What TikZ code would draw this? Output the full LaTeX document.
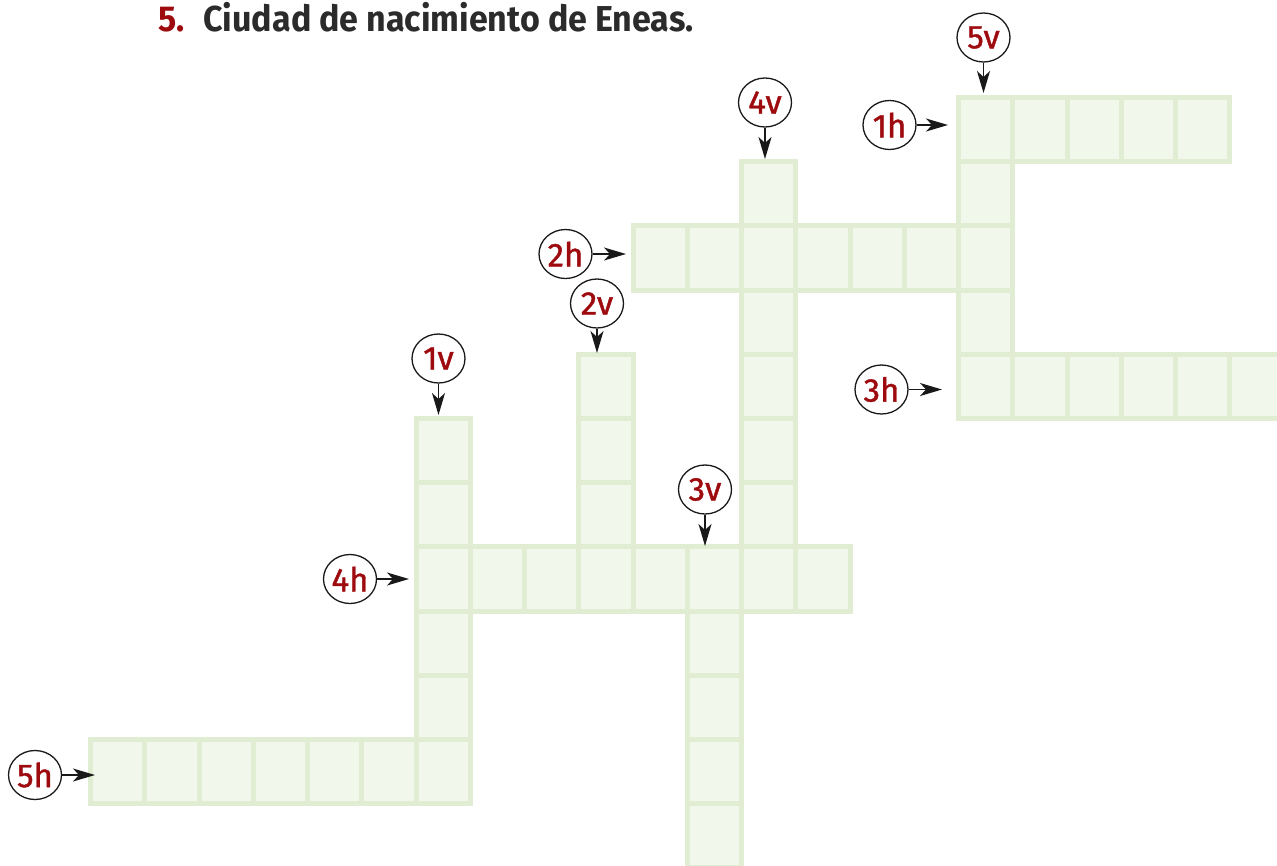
\documentclass[tikz,border=0pt]{standalone}
\usepackage{fontspec}
\setmainfont{Fira Sans}
\newfontfamily\titlefont[FakeStretch=0.945]{Fira Sans}
\newfontfamily\lblfont[FakeBold=1.2]{Fira Sans}
\usetikzlibrary{arrows.meta,shapes.geometric}
\definecolor{cellfill}{HTML}{F2F7EC}
\definecolor{cellline}{HTML}{E1EDD2}
\definecolor{lblred}{HTML}{9E0B0F}
\definecolor{titlegray}{HTML}{2B2B2B}
\begin{document}
\begin{tikzpicture}[x=1pt,y=-1pt,
  cell/.style={rectangle, draw=cellline, fill=cellfill, line width=5pt,
    minimum width=54.25pt, minimum height=64.2pt, inner sep=0pt, outer sep=0pt},
  lbl/.style={ellipse, draw=black!90, line width=1.3pt, minimum width=53pt,
    minimum height=49pt, inner sep=0pt, text=lblred,
    font=\lblfont\fontsize{33}{33}\selectfont},
  arr/.style={-{Stealth[length=22pt,width=13pt,inset=6pt]}, line width=1.4pt, black!90}]
\useasboundingbox (0,0) rectangle (1277,865);
\clip (0,0) rectangle (1277,865);
% title
\node[anchor=base west, inner sep=0pt, text=titlegray,
  font=\titlefont\bfseries\fontsize{36}{36}\selectfont] (title) at (158,31)
  {\textcolor{lblred}{5.}\hspace{8pt} Ciudad de nacimiento de Eneas.};
% cells: center of cell (i,j) = (117.625+54.25 i, 129.6+64.2 j)
\foreach \i in {16,...,20} {\node[cell] (c\i-0) at ({117.625+54.25*\i},{129.6}) {};}   % 1h
\foreach \j in {0,...,4} {\node[cell] (c16-\j) at ({117.625+54.25*16},{129.6+64.2*\j}) {};} % 5v
\foreach \i in {10,...,16} {\node[cell] (c\i-2) at ({117.625+54.25*\i},{129.6+64.2*2}) {};} % 2h
\foreach \j in {1,...,7} {\node[cell] (c12-\j) at ({117.625+54.25*12},{129.6+64.2*\j}) {};} % 4v
\foreach \i in {16,...,21} {\node[cell] (c\i-4) at ({117.625+54.25*\i},{129.6+64.2*4}) {};} % 3h
\foreach \j in {4,...,7} {\node[cell] (c9-\j) at ({117.625+54.25*9},{129.6+64.2*\j}) {};} % 2v
\foreach \j in {5,...,10} {\node[cell] (c6-\j) at ({117.625+54.25*6},{129.6+64.2*\j}) {};} % 1v
\foreach \i in {6,...,13} {\node[cell] (c\i-7) at ({117.625+54.25*\i},{129.6+64.2*7}) {};} % 4h
\foreach \j in {7,...,11} {\node[cell] (c11-\j) at ({117.625+54.25*11},{129.6+64.2*\j}) {};} % 3v
\foreach \i in {0,...,6} {\node[cell] (c\i-10) at ({117.625+54.25*\i},{129.6+64.2*10}) {};} % 5h
% labels
\node[lbl] (l5v) at (983.5,37.5) {5v};
\node[lbl] (l4v) at (765,102.5) {4v};
\node[lbl] (l1h) at (889.5,125) {1h};
\node[lbl] (l2h) at (565.5,254) {2h};
\node[lbl] (l2v) at (597,303.5) {2v};
\node[lbl] (l3h) at (881.5,389.5) {3h};
\node[lbl] (l1v) at (438.5,358.5) {1v};
\node[lbl] (l3v) at (705,489.5) {3v};
\node[lbl] (l4h) at (350,579) {4h};
\node[lbl] (l5h) at (35,775) {5h};
% arrow tips
\coordinate (t5v) at (983.5,93);
\coordinate (t4v) at (765,159);
\coordinate (t1h) at (948,125);
\coordinate (t2h) at (626,254);
\coordinate (t2v) at (597,353);
\coordinate (t3h) at (942,389.5);
\coordinate (t1v) at (438.5,415);
\coordinate (t3v) at (705,546);
\coordinate (t4h) at (409,579);
\coordinate (t5h) at (95,775);
\foreach \n in {5v,4v,1h,2h,2v,3h,1v,3v,4h,5h} {\draw[arr] (l\n) -- (t\n);}
\end{tikzpicture}
\end{document}
